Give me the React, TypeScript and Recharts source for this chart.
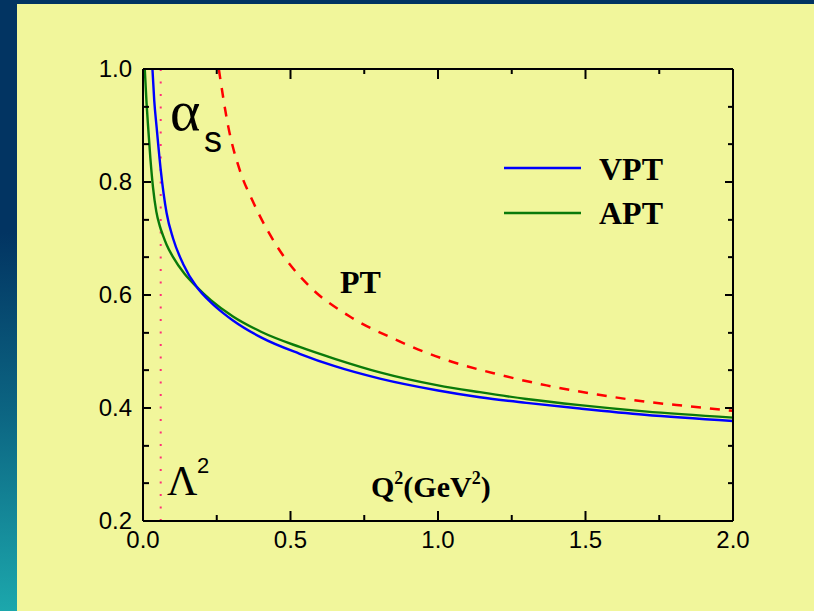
import { LineChart, Line, XAxis, YAxis, ReferenceLine } from 'recharts';

// Q^2 grid (GeV^2) and coupling values for each curve
const VPT_Q = [0.032, 0.038, 0.046, 0.06, 0.08, 0.102, 0.136, 0.181, 0.23, 0.272, 0.305, 0.4, 0.531, 0.65, 0.803, 1.0, 1.142, 1.3, 1.481, 1.7, 2.0];
const VPT_ALPHA = [1.0, 0.945, 0.898, 0.822, 0.745, 0.7, 0.655, 0.615, 0.587, 0.568, 0.555, 0.525, 0.496, 0.474, 0.452, 0.431, 0.419, 0.409, 0.399, 0.388, 0.377];

const APT_Q = [0.006, 0.012, 0.018, 0.025, 0.034, 0.045, 0.057, 0.068, 0.08, 0.102, 0.14, 0.181, 0.23, 0.305, 0.4, 0.531, 0.65, 0.803, 1.0, 1.142, 1.3, 1.481, 1.7, 2.0];
const APT_ALPHA = [1.0, 0.94, 0.893, 0.842, 0.79, 0.748, 0.722, 0.705, 0.689, 0.667, 0.638, 0.615, 0.591, 0.562, 0.535, 0.508, 0.487, 0.463, 0.44, 0.428, 0.416, 0.405, 0.394, 0.383];

const PT_Q = [0.257, 0.289, 0.328, 0.373, 0.452, 0.565, 0.701, 0.848, 1.029, 1.2, 1.368, 1.54, 1.707, 1.85, 2.0];
const PT_ALPHA = [1.0, 0.898, 0.821, 0.765, 0.688, 0.615, 0.562, 0.523, 0.485, 0.46, 0.44, 0.424, 0.411, 0.403, 0.395];

const LAMBDA_SQ = 0.06;

const X_TICKS = [0, 0.25, 0.5, 0.75, 1.0, 1.25, 1.5, 1.75, 2.0];
const Y_TICKS = [0.2, 0.267, 0.333, 0.4, 0.467, 0.533, 0.6, 0.667, 0.733, 0.8, 0.867, 0.933, 1.0];

const toPoints = (q: number[], a: number[]) => q.map((x, i) => ({ q: x, alpha: a[i] }));

const vptData = toPoints(VPT_Q, VPT_ALPHA);
const aptData = toPoints(APT_Q, APT_ALPHA);
const ptData = toPoints(PT_Q, PT_ALPHA);

const SANS = '"Liberation Sans", Arial, sans-serif';
const SERIF = '"Liberation Serif", "Times New Roman", serif';

const isMajorX = (v: number) => Math.abs(v * 2 - Math.round(v * 2)) < 1e-6;
const isMajorY = (v: number) => Math.abs(v * 5 - Math.round(v * 5)) < 0.01;

// ticks point into the plot frame; labels only on the major ones
function BottomTick({ x, y, payload }: any) {
  const major = isMajorX(payload.value);
  return (
    <g>
      <line x1={x} y1={y} x2={x} y2={y - (major ? 10 : 6)} stroke="#000" strokeWidth={2} />
      {major && (
        <text x={x} y={y + 27} textAnchor="middle" fontSize={24} fontFamily={SANS} fill="#000">
          {payload.value.toFixed(1)}
        </text>
      )}
    </g>
  );
}

function TopTick({ x, y, payload }: any) {
  const major = isMajorX(payload.value);
  return <line x1={x} y1={y} x2={x} y2={y + (major ? 10 : 5)} stroke="#000" strokeWidth={2} />;
}

function LeftTick({ x, y, payload }: any) {
  const major = isMajorY(payload.value);
  return (
    <g>
      <line x1={x} y1={y} x2={x + (major ? 8 : 6)} y2={y} stroke="#000" strokeWidth={2} />
      {major && (
        <text x={x - 11} y={y + 8} textAnchor="end" fontSize={24} fontFamily={SANS} fill="#000">
          {payload.value.toFixed(1)}
        </text>
      )}
    </g>
  );
}

function RightTick({ x, y, payload }: any) {
  const major = isMajorY(payload.value);
  return <line x1={x} y1={y} x2={x - (major ? 8 : 5)} y2={y} stroke="#000" strokeWidth={2} />;
}

const frame = { stroke: '#000', strokeWidth: 2 };

export default function App() {
  return (
    <div
      style={{
        position: 'absolute',
        left: 0,
        top: 0,
        width: 814,
        height: 611,
        background: 'linear-gradient(180deg, #023462 0%, #023462 38%, #0c6683 68%, #1ca7ac 100%)',
        overflow: 'hidden',
      }}
    >
      <div style={{ position: 'absolute', left: 17, top: 4, right: 0, bottom: 0, background: '#f1f69b' }} />
      <div style={{ position: 'absolute', left: 0, top: 0 }}>
        <LineChart width={814} height={611} margin={{ top: 68, right: 80, bottom: 50, left: 83 }}>
          <XAxis
            dataKey="q"
            type="number"
            domain={[0, 2]}
            ticks={X_TICKS}
            interval={0}
            allowDataOverflow
            height={40}
            tickSize={0}
            tickMargin={0}
            tickLine={false}
            axisLine={frame}
            tick={<BottomTick />}
          />
          <XAxis
            xAxisId="top"
            orientation="top"
            dataKey="q"
            type="number"
            domain={[0, 2]}
            ticks={X_TICKS}
            interval={0}
            allowDataOverflow
            height={1}
            tickSize={0}
            tickMargin={0}
            tickLine={false}
            axisLine={frame}
            tick={<TopTick />}
          />
          <YAxis
            type="number"
            domain={[0.2, 1.0]}
            ticks={Y_TICKS}
            interval={0}
            allowDataOverflow
            width={60}
            tickSize={0}
            tickMargin={0}
            tickLine={false}
            axisLine={frame}
            tick={<LeftTick />}
          />
          <YAxis
            yAxisId="right"
            orientation="right"
            type="number"
            domain={[0.2, 1.0]}
            ticks={Y_TICKS}
            interval={0}
            allowDataOverflow
            width={1}
            tickSize={0}
            tickMargin={0}
            tickLine={false}
            axisLine={frame}
            tick={<RightTick />}
          />
          <ReferenceLine x={LAMBDA_SQ} stroke="#ff2f78" strokeWidth={2} strokeDasharray="2 10.5" />
          {/* PT sits on the top/right axes (same domains) so those frame sides get drawn */}
          <Line
            data={ptData}
            xAxisId="top"
            yAxisId="right"
            dataKey="alpha"
            type="monotone"
            stroke="#ff0000"
            strokeWidth={2.5}
            strokeDasharray="10 9"
            dot={false}
            isAnimationActive={false}
          />
          <Line
            data={aptData}
            dataKey="alpha"
            type="monotone"
            stroke="#0a7a0a"
            strokeWidth={2.4}
            dot={false}
            isAnimationActive={false}
          />
          <Line
            data={vptData}
            dataKey="alpha"
            type="monotone"
            stroke="#0000ff"
            strokeWidth={2.4}
            dot={false}
            isAnimationActive={false}
          />
        </LineChart>
      </div>
      <svg
        width={814}
        height={611}
        style={{ position: 'absolute', left: 0, top: 0, pointerEvents: 'none' }}
      >
        {/* legend */}
        <line x1={504} y1={168} x2={581} y2={168} stroke="#0000ff" strokeWidth={2.4} />
        <line x1={504} y1={213} x2={581} y2={213} stroke="#0a7a0a" strokeWidth={2.4} />
        <text x={599} y={180} fontSize={32} fontWeight="bold" fontFamily={SERIF} fill="#000">VPT</text>
        <text x={599} y={224} fontSize={32} fontWeight="bold" fontFamily={SERIF} fill="#000">APT</text>

        {/* curve and axis annotations */}
        <text x={340} y={293} fontSize={32} fontWeight="bold" fontFamily={SERIF} fill="#000">PT</text>
        <text x={170} y={130} fontSize={58} fontFamily={SERIF} fill="#000">α</text>
        <text x={204} y={152} fontSize={36} fontFamily={SANS} fill="#000">s</text>
        <text x={167} y={495} fontSize={42} fontFamily={SERIF} fill="#000">Λ</text>
        <text x={197} y={473} fontSize={22} fontFamily={SANS} fill="#000">2</text>
        <text x={371} y={497} fontSize={30} fontWeight="bold" fontFamily={SERIF} fill="#000">
          Q<tspan fontSize={18} dy={-13}>2</tspan>
          <tspan dy={13}>(GeV</tspan>
          <tspan fontSize={18} dy={-13}>2</tspan>
          <tspan dy={13}>)</tspan>
        </text>
      </svg>
    </div>
  );
}
